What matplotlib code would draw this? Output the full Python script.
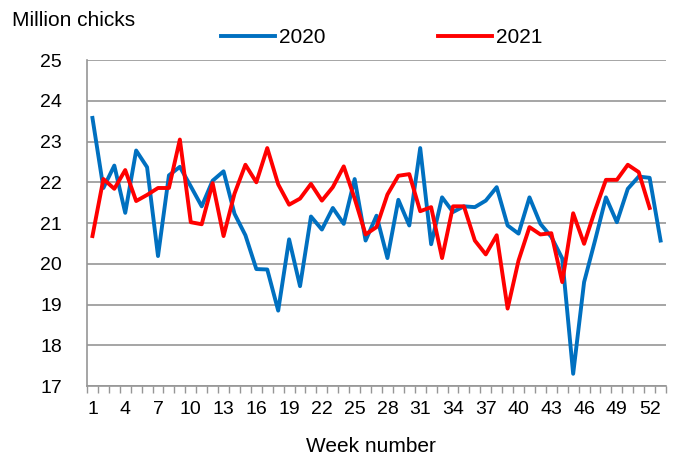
import numpy as np
import matplotlib
matplotlib.use('Agg')
import matplotlib.pyplot as plt
from matplotlib.ticker import FixedLocator

plt.rcParams['font.family'] = ['Liberation Sans', 'DejaVu Sans']

# weekly chick placings, million chicks
y2020 = [23.58, 21.86, 22.41, 21.25, 22.78, 22.37, 20.19, 22.17, 22.38, 21.90,
         21.41, 22.04, 22.27, 21.23, 20.70, 19.87, 19.86, 18.85, 20.60, 19.45,
         21.16, 20.84, 21.37, 20.98, 22.08, 20.57, 21.18, 20.14, 21.57, 20.94,
         22.84, 20.48, 21.63, 21.27, 21.41, 21.39, 21.55, 21.88, 20.94, 20.74,
         21.63, 20.98, 20.66, 20.13, 17.30, 19.55, 20.57, 21.63, 21.02, 21.84,
         22.14, 22.11, 20.57]
y2021 = [20.68, 22.08, 21.84, 22.30, 21.54, 21.69, 21.86, 21.86, 23.05, 21.02,
         20.97, 21.98, 20.68, 21.72, 22.43, 22.00, 22.84, 21.95, 21.45, 21.60,
         21.96, 21.55, 21.88, 22.39, 21.60, 20.72, 20.90, 21.70, 22.16, 22.20,
         21.29, 21.39, 20.14, 21.41, 21.41, 20.57, 20.23, 20.70, 18.90, 20.08,
         20.90, 20.72, 20.75, 19.55, 21.24, 20.49, 21.31, 22.06, 22.06, 22.43,
         22.25, 21.37]
week_labels = list(range(1, 53, 3))

weeks20 = np.arange(1, len(y2020) + 1)
weeks21 = np.arange(1, len(y2021) + 1)

fig = plt.figure(figsize=(6.77, 4.62), dpi=100)
ax = fig.add_axes([0.1285, 0.1645, 0.8553, 0.7055])

ax.plot(weeks20, y2020, color='#0070C0', lw=2.8, label='2020', solid_joinstyle='round')
ax.plot(weeks21, y2021, color='#FF0000', lw=2.8, label='2021', solid_joinstyle='round')

ax.set_xlim(0.5, len(y2020) + 0.5)
ax.set_ylim(17, 25)
ax.set_yticks(range(17, 26))
ax.yaxis.grid(True, color='#969696', lw=1.2)
ax.set_axisbelow(True)

ax.set_xticks(week_labels)
ax.set_xticklabels([str(w) for w in week_labels])
ax.xaxis.set_minor_locator(FixedLocator(np.arange(0.5, len(y2020) + 1, 1)))
ax.tick_params(axis='x', which='major', length=0, pad=11, labelsize=14)
ax.tick_params(axis='x', which='minor', length=5, color='#969696', width=1)
ax.tick_params(axis='y', length=0, pad=18, labelsize=14)

for s in ['top', 'right']:
    ax.spines[s].set_visible(False)
for s in ['left', 'bottom']:
    ax.spines[s].set_color('#969696')
    ax.spines[s].set_linewidth(1.2)

ax.set_xlabel('Week number', fontsize=15)
ax.xaxis.set_label_coords(0.49, -0.155)
fig.text(0.018, 0.955, 'Million chicks', fontsize=15, va='center', ha='left')

fig.legend(loc='center left', bbox_to_anchor=(0.326, 0.919), ncol=2, frameon=False,
           fontsize=15, handlelength=2.6, handletextpad=0.2, columnspacing=5.4,
           borderpad=0, borderaxespad=0)

fig.savefig('out.png', dpi=100)
